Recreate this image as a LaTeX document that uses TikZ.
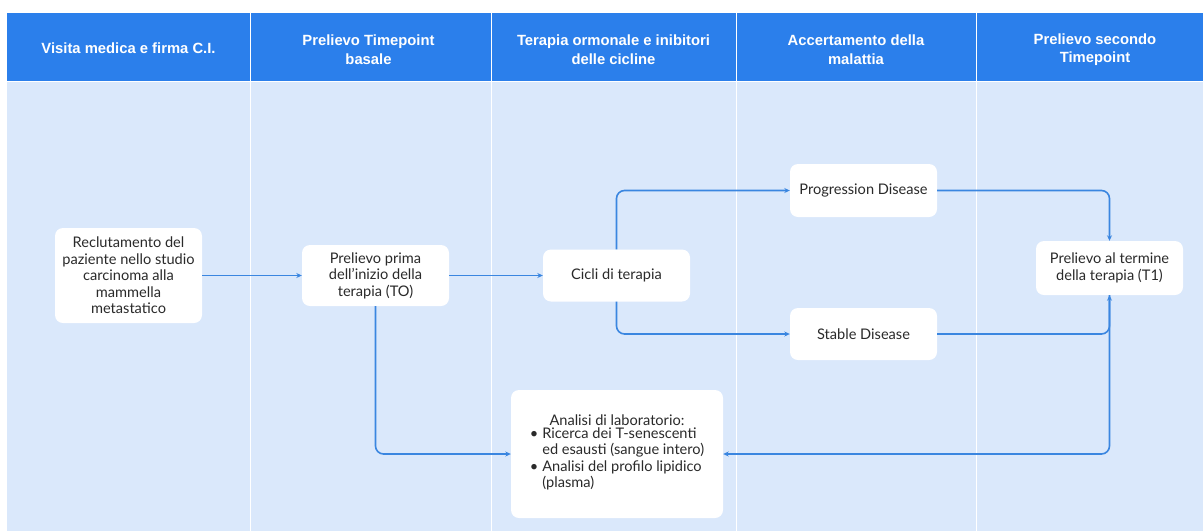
\documentclass[tikz,border=0pt]{standalone}
\usepackage{fontspec}
\setmainfont{Lato}
\newfontfamily\hdrfont{Liberation Sans}
\usetikzlibrary{arrows.meta}
\definecolor{hdrblue}{HTML}{2B7FEB}
\definecolor{bodyblue}{HTML}{DAE8FB}
\definecolor{linkblue}{HTML}{3A86E0}
\definecolor{txt}{HTML}{2A2A2A}
\begin{document}
\begin{tikzpicture}[x=1pt,y=-1pt,
  box/.style={fill=white,rounded corners=8pt,align=center,inner sep=0pt,
    font=\fontsize{14.6}{16.5}\selectfont,text=txt},
  hdrtext/.style={text=white,align=center,font=\hdrfont\bfseries\fontsize{14.8}{18.5}\selectfont},
  sep/.style={draw=white,line width=1pt},
  link/.style={draw=linkblue,line width=1.6pt,rounded corners=8pt,-{Stealth[length=5.5pt,width=5pt]}}]
\useasboundingbox (0,0) rectangle (1203,531);
\fill[white] (0,0) rectangle (1203,531);
\fill[bodyblue] (7,81) rectangle (1203,531);
\fill[hdrblue] (7,13) rectangle (1203,81);
\foreach \x in {250,491,736,976} \draw[sep] (\x,13) -- (\x,531);
\draw[sep] (7,81) -- (1203,81);
% headers
\node[hdrtext] (h1) at (128.5,48) {Visita medica e firma C.I.};
\node[hdrtext] (h2) at (368.5,49.5) {Prelievo Timepoint\\basale};
\node[hdrtext] (h3) at (613.5,49.5) {Terapia ormonale e inibitori\\delle cicline};
\node[hdrtext] (h4) at (856,49.5) {Accertamento della\\malattia};
\node[hdrtext] (h5) at (1095,49.5) {Prelievo secondo\\Timepoint};
% boxes
\node[box,minimum width=147,minimum height=95] (rec) at (128.5,275.5)
  {Reclutamento del\\paziente nello studio\\carcinoma alla\\mammella\\metastatico};
\node[box,minimum width=147,minimum height=61] (pre) at (375.5,275.5)
  {Prelievo prima\\dell'inizio della\\terapia (TO)};
\node[box,minimum width=147,minimum height=52] (cic) at (616.5,275.5) {Cicli di terapia};
\node[box,minimum width=147,minimum height=53] (prog) at (863.5,190.5) {Progression Disease};
\node[box,minimum width=147,minimum height=52] (stab) at (863.5,334) {Stable Disease};
\node[box,minimum width=147,minimum height=54] (t1) at (1109.5,268) {Prelievo al termine\\della terapia (T1)};
\node[box,minimum width=212,minimum height=128] (lab) at (617,454)
  {Analisi di laboratorio:\\
   \begin{tabular}{@{}l@{\hspace{4pt}}l@{}}
   •&Ricerca dei T-senescenti\\
    &ed esausti (sangue intero)\\
   •&Analisi del profilo lipidico\\
    &(plasma)
   \end{tabular}};
% connectors
\draw[link] (rec.east) -- (pre.west);
\draw[link] (pre.east) -- (cic.west);
\draw[link] (cic.north) |- (prog.west);
\draw[link] (cic.south) |- (stab.west);
\draw[link] (prog.east) -| (t1.north);
\draw[link] (stab.east) -| (t1.south);
\draw[link] (pre.south) |- (lab.west);
\draw[link] (t1.south) |- (lab.east);
\end{tikzpicture}
\end{document}
